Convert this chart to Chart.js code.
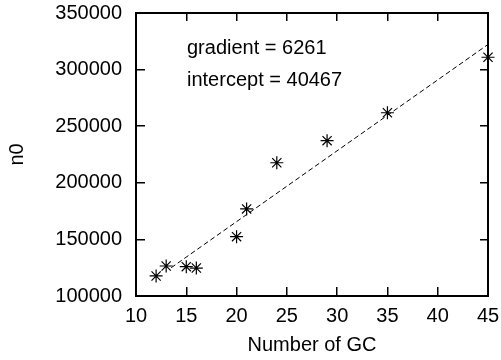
<!DOCTYPE html>
<html>
<head>
<meta charset="utf-8">
<script src="https://cdn.jsdelivr.net/npm/chart.js@4/dist/chart.umd.min.js"></script>
<style>
  html, body { margin: 0; padding: 0; background: #fff; }
  #wrap { width: 501px; height: 360px; }
</style>
</head>
<body>
<div id="wrap"><canvas id="fitChart" width="501" height="360"></canvas></div>
<script>
// ================== Data ==================
const gcCounts = [12, 13, 15, 16, 20, 21, 24, 29, 35, 45];
const n0Values = [117700, 126500, 125900, 124700, 152400, 176900, 217700, 237200, 261900, 310900];

// fitted line endpoints (gradient 6261, intercept 40467)
const fitX = [13.5, 45];
const fitY = [124990, 322210];

const xTicks = [10, 15, 20, 25, 30, 35, 40, 45];
const yTicks = [100000, 150000, 200000, 250000, 300000, 350000];
const notes = ["gradient = 6261", "intercept = 40467"];

const FONT = "'Liberation Sans', Arial, Helvetica, sans-serif";
const INK = "#000";

// ================== Plugin: notes ==================
const notesPlugin = {
  id: "notes",
  afterDraw(chart) {
    const ctx = chart.ctx;
    ctx.save();
    ctx.fillStyle = INK;
    ctx.font = "20px " + FONT;
    ctx.textAlign = "left";
    ctx.textBaseline = "middle";
    ctx.fillText(notes[0], 187, 48);
    ctx.fillText(notes[1], 187, 80);
    ctx.restore();
  }
};

// bỏ phần đệm tự động của trục để vùng vẽ khớp khung
function noPad(s) {
  s.paddingTop = 0; s.paddingBottom = 0;
  s.paddingLeft = 0; s.paddingRight = 0;
}

// grid line chỉ vẽ 8px ở hai đầu => tick hướng vào trong
const tickGrid = { display: true, drawOnChartArea: true, drawTicks: false, color: INK, lineWidth: 1.5 };
const noGrid = { display: false, drawTicks: false };
const frameBorder = { display: true, color: INK, width: 2 };

// ================== Chart ==================
new Chart(document.getElementById("fitChart"), {
  type: "scatter",
  data: {
    datasets: [{
      label: "n0",
      data: gcCounts.map((x, i) => ({ x: x, y: n0Values[i] })),
      pointStyle: "star",
      pointRadius: 6.5,
      pointHoverRadius: 6.5,
      borderColor: INK,
      backgroundColor: INK,
      borderWidth: 1.2,
      clip: false
    }, {
      type: "line",
      label: "fit",
      data: fitX.map((x, i) => ({ x: x, y: fitY[i] })),
      borderColor: INK,
      borderWidth: 1,
      borderDash: [5, 3],
      pointRadius: 0,
      fill: false
    }]
  },
  options: {
    responsive: false,
    animation: false,
    layout: { padding: { top: 13, right: 13, left: 0, bottom: 0 } },
    plugins: {
      legend: { display: false },
      tooltip: { enabled: false }
    },
    scales: {
      x: {
        type: "linear",
        position: "bottom",
        min: 10,
        max: 45,
        afterFit: s => { s.height = 64; noPad(s); },
        afterBuildTicks: s => { s.ticks = xTicks.map(v => ({ value: v })); },
        grid: tickGrid,
        border: { display: true, color: INK, width: 2, dash: [8, 266, 8, 60] },
        ticks: {
          color: INK,
          padding: 8,
          maxRotation: 0,
          font: { family: FONT, size: 20 },
          callback: v => String(v)
        },
        title: {
          display: true,
          text: "Number of GC",
          color: INK,
          padding: { top: 0, bottom: 3 },
          font: { family: FONT, size: 20 }
        }
      },
      x2: {
        type: "linear",
        position: "top",
        min: 10,
        max: 45,
        afterFit: s => { s.height = 0; noPad(s); },
        grid: noGrid,
        border: frameBorder,
        ticks: { display: false }
      },
      y: {
        type: "linear",
        position: "left",
        min: 100000,
        max: 350000,
        afterFit: s => { s.width = 136; noPad(s); },
        afterBuildTicks: s => { s.ticks = yTicks.map(v => ({ value: v })); },
        grid: tickGrid,
        border: { display: true, color: INK, width: 2, dash: [8, 335, 8, 60] },
        ticks: {
          color: INK,
          padding: 14,
          font: { family: FONT, size: 20 },
          callback: v => String(v)
        },
        title: {
          display: true,
          text: "n0",
          color: INK,
          padding: { top: 5, bottom: 0 },
          font: { family: FONT, size: 20 }
        }
      },
      y2: {
        type: "linear",
        position: "right",
        min: 100000,
        max: 350000,
        afterFit: s => { s.width = 0; noPad(s); },
        grid: noGrid,
        border: frameBorder,
        ticks: { display: false }
      }
    }
  },
  plugins: [notesPlugin]
});
</script>
</body>
</html>
